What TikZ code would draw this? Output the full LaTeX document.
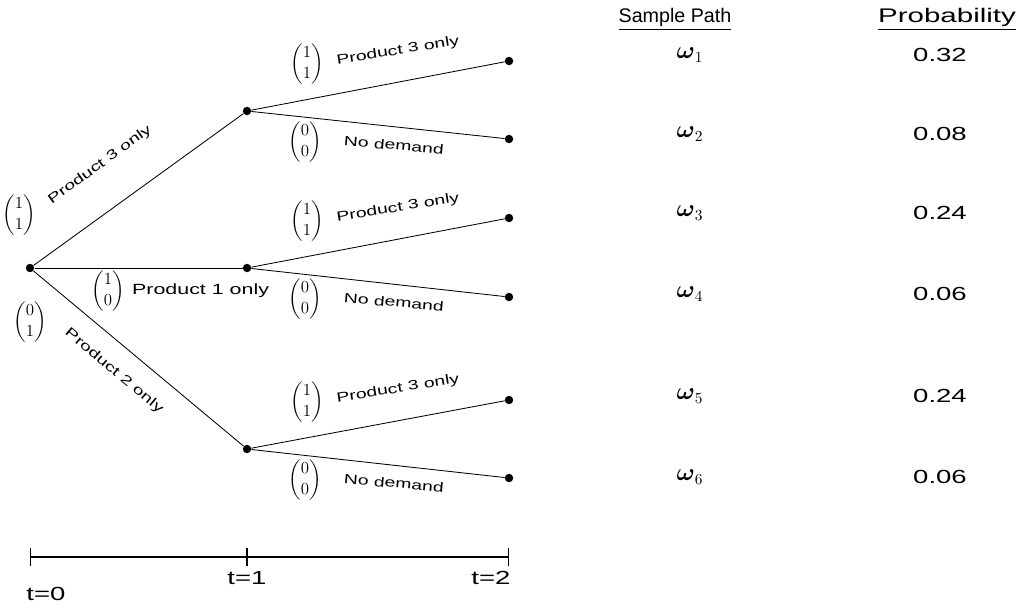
\documentclass[tikz,border=0pt]{standalone}
\usepackage{amsmath}
\usepackage{fontspec}
\setmainfont{Liberation Sans}
\newfontfamily\widefont[FakeStretch=1.45]{Liberation Sans}
\usetikzlibrary{arrows.meta,positioning}

\begin{document}
\begin{tikzpicture}[x=0.025cm, y=-0.025cm,
  dot/.style={circle, fill=black, inner sep=0pt, minimum size=6pt},
  branch/.style={line width=0.6pt},
  vec/.style={inner sep=0pt, font=\fontsize{12}{14.5}\selectfont},
  lbl/.style={inner sep=0pt, font=\widefont\fontsize{9.5}{11}\selectfont},
  head/.style={inner sep=0pt, font=\fontsize{14}{16}\selectfont},
  val/.style={inner sep=0pt, font=\widefont\fontsize{13.5}{15}\selectfont},
  tick/.style={line width=1pt, {Bar[width=0.45cm]}-{Bar[width=0.45cm]}}
]
  \useasboundingbox (0,0) rectangle (1021,607);

  % Tree points
  \node[dot] (r) at (30,268) {};
  \node[dot] (a) at (247,111) {};
  \node[dot] (b) at (247,268) {};
  \node[dot] (c) at (247,449) {};
  \node[dot] (a1) at (509,61) {};
  \node[dot] (a2) at (509,139) {};
  \node[dot] (b1) at (509,218) {};
  \node[dot] (b2) at (509,297) {};
  \node[dot] (c1) at (509,400) {};
  \node[dot] (c2) at (509,478) {};

  % Branches
  \draw[branch] (r) -- (a);
  \draw[branch] (r) -- (b);
  \draw[branch] (r) -- (c);
  \draw[branch] (a) -- (a1);
  \draw[branch] (a) -- (a2);
  \draw[branch] (b) -- (b1);
  \draw[branch] (b) -- (b2);
  \draw[branch] (c) -- (c1);
  \draw[branch] (c) -- (c2);

  % First period labels
  \node[vec] (va) at (19,215) {$\begin{pmatrix}1\\1\end{pmatrix}$};
  \node[lbl, rotate=36] (la) at (100,165) {Product 3 only};
  \node[vec] (vb) at (108,291) {$\begin{pmatrix}1\\0\end{pmatrix}$};
  \node[lbl, right=5pt of vb, font=\widefont\fontsize{10.5}{12}\selectfont] (lb) {Product 1 only};
  \node[vec] (vc) at (30,322) {$\begin{pmatrix}0\\1\end{pmatrix}$};
  \node[lbl, rotate=-40] (lc) at (114,371) {Product 2 only};

  % Second period labels
  \foreach \n/\y in {a/111, b/268, c/449} {
    \node[vec] (\n v1) at (307,\y-47) {$\begin{pmatrix}1\\1\end{pmatrix}$};
    \node[lbl, rotate=9] (\n l1) at (398,\y-60) {Product 3 only};
    \node[vec] (\n v2) at (305,\y+31) {$\begin{pmatrix}0\\0\end{pmatrix}$};
    \node[lbl, rotate=-5] (\n l2) at (394,\y+34) {No demand};
  }

  % Table
  \node[head] (hs) at (675,19) {\underline{Sample Path}};
  \node[head, xscale=1.5] (hp) at (947,19) {\underline{Probability}};
  \foreach \i/\y/\p in {1/55/0.32, 2/134/0.08, 3/213/0.24, 4/294/0.06, 5/396/0.24, 6/477/0.06} {
    \node[inner sep=0pt, font=\fontsize{16}{18}\selectfont] (w\i) at (690,\y) {$\boldsymbol{\omega}_{\i}$};
    \node[val] (p\i) at (940,\y) {\p};
  }

  % Time axis
  \coordinate (t0) at (30,557);
  \coordinate (t1) at (247,557);
  \coordinate (t2) at (509,557);
  \draw[tick] (t0) -- (t1);
  \draw[tick] (t1) -- (t2);
  \node[val] (n0) at (46,594) {t=0};
  \node[val] (n1) at (247,578) {t=1};
  \node[val] (n2) at (491,578) {t=2};
\end{tikzpicture}
\end{document}
